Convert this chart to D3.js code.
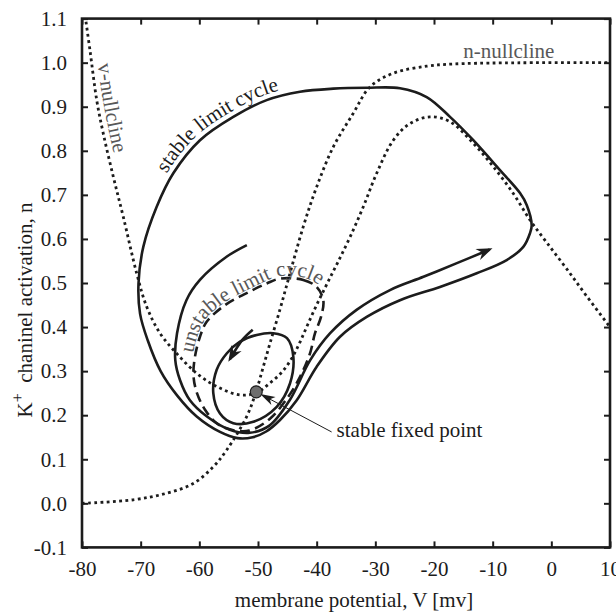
<!DOCTYPE html>
<html>
<head>
<meta charset="utf-8">
<script src="https://cdn.jsdelivr.net/npm/d3@7"></script>
<style>
  body { margin: 0; background: #fff; }
  svg { display: block; }
</style>
</head>
<body>
<svg id="chart" width="616" height="612"></svg>
<script>
// phase plane, points as [V (mV), n]
const xTicks = [-80, -70, -60, -50, -40, -30, -20, -10, 0, 10];
const yTicks = [-0.1, 0.0, 0.1, 0.2, 0.3, 0.4, 0.5, 0.6, 0.7, 0.8, 0.9, 1.0, 1.1];

const vNullcline = [
  [-79.32, 1.093], [-78.64, 1.028], [-77.49, 0.915], [-76.37, 0.839], [-74.66, 0.741],
  [-72.96, 0.650], [-70.68, 0.522], [-68.97, 0.446], [-66.70, 0.386], [-63.86, 0.340],
  [-60.45, 0.295], [-57.04, 0.265], [-53.07, 0.246], [-50.22, 0.251], [-47.96, 0.273],
  [-45.91, 0.298], [-44.20, 0.330], [-42.84, 0.366], [-41.48, 0.407], [-39.94, 0.452],
  [-38.24, 0.498], [-36.36, 0.548], [-34.32, 0.604], [-32.05, 0.673], [-29.77, 0.749],
  [-26.94, 0.824], [-24.09, 0.862], [-20.68, 0.877], [-17.27, 0.866], [-13.30, 0.817],
  [-9.89, 0.764], [-6.48, 0.703], [-3.64, 0.643], [-0.79, 0.592], [2.62, 0.532],
  [6.03, 0.470], [10.0, 0.400]
];

const nNullcline = [
  [-80.0, 0.000], [-71.26, 0.008], [-65.56, 0.023], [-61.03, 0.045], [-57.62, 0.083],
  [-55.34, 0.121], [-51.93, 0.197], [-50.34, 0.253], [-49.10, 0.310], [-47.96, 0.363],
  [-46.25, 0.440], [-44.90, 0.505], [-42.28, 0.628], [-40.00, 0.718], [-37.16, 0.809],
  [-33.76, 0.885], [-30.91, 0.945], [-26.94, 0.976], [-21.25, 0.992], [-16.71, 0.997],
  [-8.0, 0.9995], [10.0, 1.000]
];

const stableCycle = [
  [-3.35, 0.631], [-4.20, 0.677], [-5.34, 0.704], [-8.75, 0.756], [-13.30, 0.824],
  [-17.27, 0.877], [-21.25, 0.922], [-25.80, 0.942], [-31.47, 0.943], [-37.16, 0.941],
  [-42.84, 0.934], [-48.52, 0.915], [-54.21, 0.877], [-59.89, 0.824], [-64.44, 0.749],
  [-67.27, 0.673], [-69.55, 0.582], [-70.37, 0.499], [-70.10, 0.430], [-68.80, 0.370],
  [-66.60, 0.300], [-63.80, 0.245], [-60.45, 0.197], [-56.48, 0.162], [-53.50, 0.148],
  [-50.90, 0.150], [-48.60, 0.163], [-46.25, 0.189], [-43.40, 0.234], [-40.00, 0.310],
  [-36.02, 0.378], [-31.47, 0.423], [-25.80, 0.461], [-18.98, 0.491], [-12.72, 0.522],
  [-7.61, 0.552], [-4.78, 0.582], [-3.64, 0.613]
];

const unstableCycle = [
  [-46.25, 0.510], [-42.28, 0.507], [-40.00, 0.491], [-38.87, 0.461], [-39.26, 0.423],
  [-40.28, 0.386], [-41.14, 0.340], [-42.84, 0.287], [-44.84, 0.242], [-47.96, 0.192],
  [-51.50, 0.165], [-54.20, 0.166], [-56.90, 0.180], [-59.00, 0.212], [-60.40, 0.250],
  [-61.00, 0.290], [-60.74, 0.333], [-59.89, 0.378], [-58.75, 0.412], [-55.60, 0.450],
  [-51.93, 0.477], [-48.52, 0.499]
];

// trajectory leaving the unstable cycle towards the stable one
const outwardOrbit = [
  [-51.9, 0.586], [-55.3, 0.560], [-59.9, 0.507], [-62.2, 0.461], [-63.8, 0.386],
  [-64.1, 0.325], [-63.3, 0.280], [-61.6, 0.234], [-58.7, 0.197], [-54.8, 0.167],
  [-51.4, 0.160], [-48.0, 0.177], [-44.6, 0.234], [-41.1, 0.325], [-37.7, 0.386],
  [-33.2, 0.439], [-27.5, 0.484], [-21.8, 0.514], [-16.1, 0.545], [-10.5, 0.576]
];

// trajectory spiralling into the fixed point
const inwardArrow = [[-50.9, 0.394], [-52.6, 0.372], [-54.8, 0.327]];
const inwardLoop = [
  [-47.39, 0.386], [-45.06, 0.375], [-43.98, 0.333], [-44.55, 0.272], [-46.81, 0.219],
  [-50.80, 0.185], [-54.21, 0.182], [-56.48, 0.204], [-57.62, 0.250], [-57.04, 0.303],
  [-55.34, 0.340], [-53.07, 0.367], [-50.22, 0.382]
];

const fixedPoint = [-50.3, 0.253];

const ink = "#1c1c1c", grey = "#585858";
const serif = "'Liberation Serif', Tinos, 'Times New Roman', 'DejaVu Serif', serif";
const svg = d3.select("#chart").attr("font-family", serif).style("font-family", serif);

const x = d3.scaleLinear().domain([-80, 10]).range([82, 610]);
const y = d3.scaleLinear().domain([-0.1, 1.1]).range([547.4, 18.6]);

const defs = svg.append("defs");
defs.append("clipPath").attr("id", "plot")
  .append("rect")
  .attr("x", x(-80)).attr("y", y(1.1))
  .attr("width", x(10) - x(-80)).attr("height", y(-0.1) - y(1.1));

function marker(id, d) {
  defs.append("marker")
    .attr("id", id)
    .attr("viewBox", "-20 -10 24 20")
    .attr("refX", -3).attr("refY", 0)
    .attr("markerUnits", "userSpaceOnUse")
    .attr("markerWidth", 24).attr("markerHeight", 20)
    .attr("orient", "auto")
    .append("path").attr("d", d).attr("fill", ink);
}
marker("head", "M0,0 L-16,-6 L-11,0 L-16,6 Z");
marker("headSmall", "M0,0 L-15,-4.5 L-11,0 L-15,4.5 Z");

const line = d3.line()
  .x(d => x(d[0])).y(d => y(d[1]))
  .curve(d3.curveCatmullRom.alpha(0.5));
const loop = d3.line()
  .x(d => x(d[0])).y(d => y(d[1]))
  .curve(d3.curveCatmullRomClosed.alpha(0.5));

const plot = svg.append("g").attr("clip-path", "url(#plot)");

// nullclines
const vPath = plot.append("path").attr("d", line(vNullcline));
const nPath = plot.append("path").attr("d", line(nNullcline));
[vPath, nPath].forEach(p => p
  .attr("fill", "none").attr("stroke", ink)
  .attr("stroke-width", 2.8).attr("stroke-dasharray", "2.8 3.4"));

// limit cycles and trajectories
const unstablePath = plot.append("path")
  .attr("d", loop(unstableCycle))
  .attr("fill", "none").attr("stroke", ink)
  .attr("stroke-width", 2.6).attr("stroke-dasharray", "10 5.5");

const stablePath = plot.append("path").attr("d", loop(stableCycle));
const outPath = plot.append("path").attr("d", line(outwardOrbit)).attr("marker-end", "url(#head)");
const inArrow = plot.append("path").attr("d", line(inwardArrow)).attr("marker-end", "url(#head)");
const inLoop = plot.append("path").attr("d", loop(inwardLoop));
[stablePath, outPath, inArrow, inLoop].forEach(p => p
  .attr("fill", "none").attr("stroke", ink).attr("stroke-width", 2.6));

// fixed point with its pointer
const fpR = 6;
const fpX = x(fixedPoint[0]), fpY = y(fixedPoint[1]);
const noteX = x(-36.6), noteY = y(0.1495);
const ls = [noteX - 5, noteY - 5.5];
const ang = Math.atan2(ls[1] - fpY, ls[0] - fpX);
svg.append("line")
  .attr("x1", ls[0]).attr("y1", ls[1])
  .attr("x2", fpX + Math.cos(ang) * (fpR + 1.5)).attr("y2", fpY + Math.sin(ang) * (fpR + 1.5))
  .attr("stroke", ink).attr("stroke-width", 1)
  .attr("marker-end", "url(#headSmall)");
svg.append("circle")
  .attr("cx", fpX).attr("cy", fpY).attr("r", fpR)
  .attr("fill", "#6e6e6e").attr("stroke", ink).attr("stroke-width", 1.2);
svg.append("text")
  .attr("x", noteX).attr("y", noteY)
  .attr("font-size", 21).attr("fill", ink)
  .text("stable fixed point");

// frame and inward ticks on all four sides
svg.append("rect")
  .attr("x", x(-80)).attr("y", y(1.1))
  .attr("width", x(10) - x(-80)).attr("height", y(-0.1) - y(1.1))
  .attr("fill", "none").attr("stroke", ink).attr("stroke-width", 2.6);

function styleAxis(g) {
  g.attr("font-size", 21).attr("font-family", serif);
  g.select(".domain").remove();
  g.selectAll("line").attr("stroke", ink).attr("stroke-width", 2);
  g.selectAll("text").attr("fill", ink);
}
svg.append("g")
  .attr("transform", `translate(0,${y(-0.1)})`)
  .call(d3.axisBottom(x).tickValues(xTicks).tickSize(-6).tickPadding(14).tickFormat(d => String(d)))
  .call(styleAxis);
svg.append("g")
  .attr("transform", `translate(0,${y(1.1)})`)
  .call(d3.axisTop(x).tickValues(xTicks).tickSize(-6).tickFormat(""))
  .call(styleAxis);
svg.append("g")
  .attr("transform", `translate(${x(-80)},0)`)
  .call(d3.axisLeft(y).tickValues(yTicks).tickSize(-6).tickPadding(15).tickFormat(d => d.toFixed(1)))
  .call(styleAxis);
svg.append("g")
  .attr("transform", `translate(${x(10)},0)`)
  .call(d3.axisRight(y).tickValues(yTicks).tickSize(-6).tickFormat(""))
  .call(styleAxis);

// axis titles
svg.append("text")
  .attr("x", 354).attr("y", 607)
  .attr("text-anchor", "middle").attr("font-size", 21).attr("fill", ink)
  .text("membrane potential, V [mv]");
const yTitle = svg.append("text")
  .attr("transform", "translate(31.5,310) rotate(-90)")
  .attr("text-anchor", "middle").attr("font-size", 21).attr("fill", ink);
yTitle.append("tspan").text("K");
yTitle.append("tspan").attr("dy", -9).attr("font-size", 16).text("+");
yTitle.append("tspan").attr("dy", 9).text("\u00a0 chaninel activation, n");

// curved labels that follow their curve; off > 0 puts them left of travel
function lengthNear(node, px, py) {
  const L = node.getTotalLength();
  let best = 0, bd = Infinity;
  for (let l = 0; l <= L; l += 0.5) {
    const p = node.getPointAtLength(l);
    const d = (p.x - px) ** 2 + (p.y - py) ** 2;
    if (d < bd) { bd = d; best = l; }
  }
  return best;
}

function guide(node, from, span, off) {
  const L = node.getTotalLength();
  const wrap = l => ((l % L) + L) % L;
  const dir = Math.sign(span);
  const pts = d3.range(0, 61).map(i => {
    const l = wrap(from + span * i / 60);
    const p = node.getPointAtLength(l);
    const q = node.getPointAtLength(wrap(l + dir * 0.5));
    let tx = q.x - p.x, ty = q.y - p.y;
    const m = Math.hypot(tx, ty) || 1;
    tx /= m; ty /= m;
    return [p.x + ty * off, p.y - tx * off];
  });
  return d3.line().curve(d3.curveBasis)(pts);
}

function curvedLabel(id, path, at, span, off, label, colour) {
  const node = path.node();
  const start = lengthNear(node, x(at[0]), y(at[1]));
  defs.append("path").attr("id", id).attr("d", guide(node, start, span, off));
  svg.append("text")
    .attr("font-size", 21).attr("fill", colour)
    .append("textPath").attr("href", "#" + id)
    .text(label);
}

curvedLabel("g-stable", stablePath, [-64.9, 0.742], -190, 5.5, "stable limit cycle", ink);
curvedLabel("g-unstable", unstablePath, [-60.9, 0.34], 220, 2.5, "unstable limit cycle", grey);
curvedLabel("g-vnull", vPath, [-78.4, 0.995], 130, 6, "v-nullcline", grey);

svg.append("text")
  .attr("x", x(-15)).attr("y", y(1.0) - 4.5)
  .attr("font-size", 21).attr("fill", grey)
  .text("n-nullcline");
</script>
</body>
</html>
